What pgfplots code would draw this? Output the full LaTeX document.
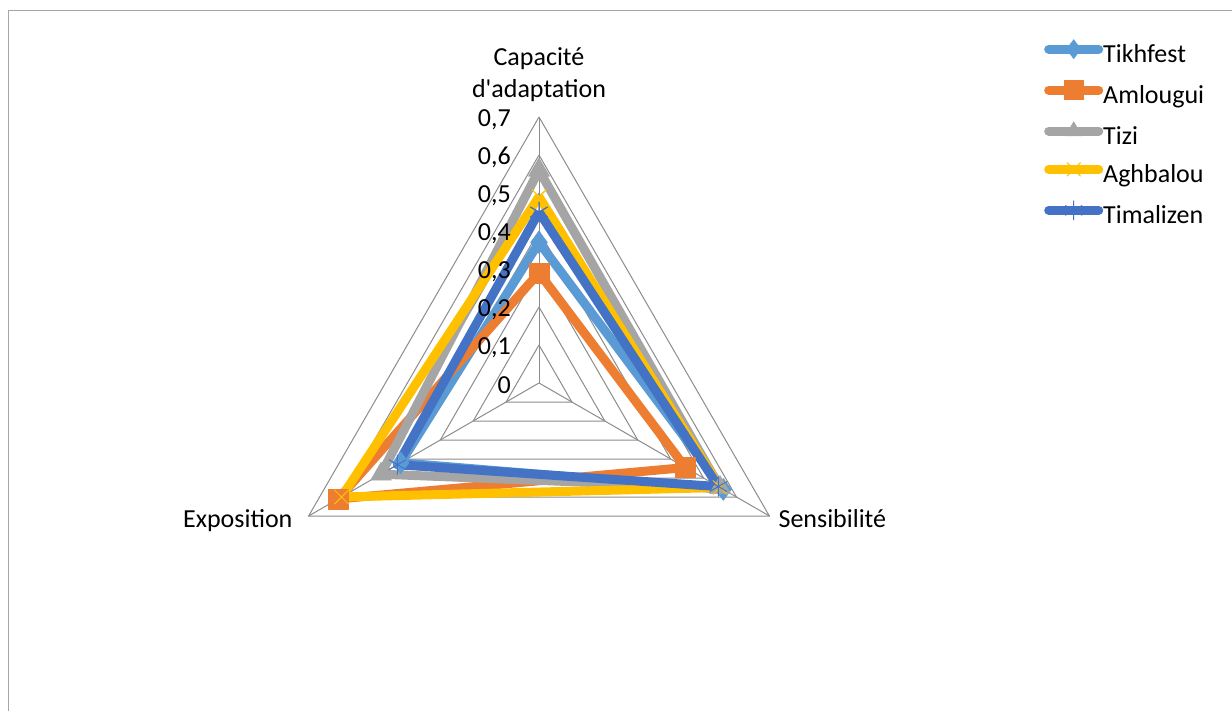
\documentclass[border=0pt]{standalone}
\usepackage{pgfplots}
\pgfplotsset{compat=1.18}
\usepackage{fontspec}
\setmainfont{Carlito}
\definecolor{cTik}{HTML}{5B9BD5}
\definecolor{cAml}{HTML}{ED7D31}
\definecolor{cTiz}{HTML}{A5A5A5}
\definecolor{cAgh}{HTML}{FFC000}
\definecolor{cTim}{HTML}{4472C4}
\definecolor{cGrid}{HTML}{8C8C8C}
\definecolor{cFrame}{HTML}{A6A6A6}
\begin{document}
\begin{tikzpicture}[x=1pt,y=1pt,font=\fontsize{26}{32}\selectfont]
\useasboundingbox (0pt,0pt) rectangle (1232pt,-711pt);
\draw[cFrame, line width=1.5pt] (8.5pt,-711pt) -- (8.5pt,-10.5pt) -- (1232pt,-10.5pt);
\begin{axis}[
  at={(539pt,-383pt)}, anchor=origin,
  x=380pt, y=380pt,
  xmin=-0.7, xmax=0.7, ymin=-0.4, ymax=0.75,
  hide axis, clip=false,
  legend cell align=left,
  legend style={draw=none, fill=none, at={(axis cs:1.3289,0.9040)}, anchor=north west,
    font=\fontsize{26}{32}\selectfont, row sep=12pt, inner sep=0pt,
    nodes={inner sep=0pt, text height=19pt, text depth=6pt}},
  legend image code/.code={%
    \draw[mark repeat=2,mark phase=2,line cap=round,#1,mark size=9.5pt] plot coordinates {(0pt,7pt) (25pt,7pt) (50pt,7pt)};},
  gridl/.style={cGrid, line width=1pt, forget plot, mark=none, data cs=polar},
  serie/.style={line width=9pt, line join=round, data cs=polar},
]
% grid
\addplot[gridl] coordinates {(90,0.1) (-30,0.1) (210,0.1) (90,0.1)};
\addplot[gridl] coordinates {(90,0.2) (-30,0.2) (210,0.2) (90,0.2)};
\addplot[gridl] coordinates {(90,0.3) (-30,0.3) (210,0.3) (90,0.3)};
\addplot[gridl] coordinates {(90,0.4) (-30,0.4) (210,0.4) (90,0.4)};
\addplot[gridl] coordinates {(90,0.5) (-30,0.5) (210,0.5) (90,0.5)};
\addplot[gridl] coordinates {(90,0.6) (-30,0.6) (210,0.6) (90,0.6)};
\addplot[gridl] coordinates {(90,0.7) (-30,0.7) (210,0.7) (90,0.7)};
\addplot[gridl] coordinates {(90,0) (90,0.7)};
\addplot[gridl] coordinates {(-30,0) (-30,0.7)};
\addplot[gridl] coordinates {(210,0) (210,0.7)};
% series: Capacite d'adaptation (90), Sensibilite (-30), Exposition (210)
\addplot[serie, cTik, mark=diamond*, mark size=11pt, mark options={solid, fill=cTik, draw=cTik, line width=0.5pt}]
  coordinates {(90,0.37) (-30,0.56) (210,0.42) (90,0.37)};
\addlegendentry{Tikhfest}
\addplot[serie, cAml, mark=square*, mark size=10pt, mark options={solid, fill=cAml, draw=cAml, line width=0.5pt}]
  coordinates {(90,0.29) (-30,0.445) (210,0.61) (90,0.29)};
\addlegendentry{Amlougui}
\addplot[serie, cTiz, mark=triangle*, mark size=12pt, mark options={solid, fill=cTiz, draw=cTiz, line width=0.5pt}]
  coordinates {(90,0.56) (-30,0.55) (210,0.48) (90,0.56)};
\addlegendentry{Tizi}
\addplot[serie, cAgh, mark=x, mark size=10pt, mark options={solid, draw=cAgh, line width=1pt}]
  coordinates {(90,0.49) (-30,0.55) (210,0.60) (90,0.49)};
\addlegendentry{Aghbalou}
\addplot[serie, cTim, mark=asterisk, mark size=10pt, mark options={solid, draw=cTim, line width=1pt}]
  coordinates {(90,0.45) (-30,0.545) (210,0.43) (90,0.45)};
\addlegendentry{Timalizen}
% radial tick labels
\node[anchor=base east, inner sep=0pt, xshift=-28pt, yshift=-10pt] at (axis cs:0,0) {0};
\node[anchor=base east, inner sep=0pt, xshift=-28pt, yshift=-10pt] at (axis cs:0,0.1) {0,1};
\node[anchor=base east, inner sep=0pt, xshift=-28pt, yshift=-10pt] at (axis cs:0,0.2) {0,2};
\node[anchor=base east, inner sep=0pt, xshift=-28pt, yshift=-10pt] at (axis cs:0,0.3) {0,3};
\node[anchor=base east, inner sep=0pt, xshift=-28pt, yshift=-10pt] at (axis cs:0,0.4) {0,4};
\node[anchor=base east, inner sep=0pt, xshift=-28pt, yshift=-10pt] at (axis cs:0,0.5) {0,5};
\node[anchor=base east, inner sep=0pt, xshift=-28pt, yshift=-10pt] at (axis cs:0,0.6) {0,6};
\node[anchor=base east, inner sep=0pt, xshift=-28pt, yshift=-10pt] at (axis cs:0,0.7) {0,7};
% category labels
\node[anchor=south, align=center, inner sep=0pt, yshift=15pt] at (axis cs:0,0.7) {Capacité\\d\textquotesingle adaptation};
\node[anchor=base east, inner sep=0pt, xshift=-16pt, yshift=-11pt] at (axis cs:-0.60622,-0.35) {Exposition};
\node[anchor=base west, inner sep=0pt, xshift=9pt, yshift=-11pt] at (axis cs:0.60622,-0.35) {Sensibilité};
\end{axis}
\end{tikzpicture}
\end{document}
